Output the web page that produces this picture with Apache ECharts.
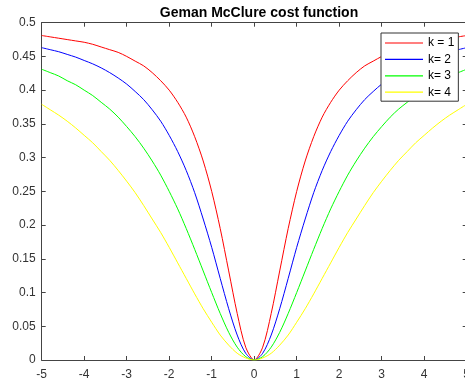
<!DOCTYPE html>
<html><head><meta charset="utf-8">
<script src="https://cdn.jsdelivr.net/npm/echarts@6/dist/echarts.min.js"></script>
<style>html,body{margin:0;padding:0;background:#fff}#c{width:465px;height:386px}</style>
</head><body><div id="c"></div>
<script>
const xs = [-5,-4.8,-4.6,-4.4,-4.2,-4,-3.8,-3.6,-3.4,-3.2,-3,-2.8,-2.6,-2.4,-2.2,-2,-1.8,-1.6,-1.4,-1.2,-1,-0.8,-0.6,-0.4,-0.2,0,0.2,0.4,0.6,0.8,1,1.2,1.4,1.6,1.8,2,2.2,2.4,2.6,2.8,3,3.2,3.4,3.6,3.8,4,4.2,4.4,4.6,4.8,5];
const k1 = [.481,.479,.477,.475,.473,.471,.468,.464,.460,.456,.450,.443,.436,.426,.414,.400,.382,.360,.331,.295,.250,.195,.132,.069,.019,0,.019,.069,.132,.195,.250,.295,.331,.360,.382,.400,.414,.426,.436,.443,.450,.456,.460,.464,.468,.471,.473,.475,.477,.479,.481];
const k2 = [.463,.460,.457,.453,.449,.444,.439,.433,.426,.418,.409,.398,.386,.371,.354,.333,.309,.281,.248,.209,.167,.121,.076,.037,.010,0,.010,.037,.076,.121,.167,.209,.248,.281,.309,.333,.354,.371,.386,.398,.409,.418,.426,.433,.439,.444,.449,.453,.457,.460,.463];
const k3 = [.431,.426,.421,.414,.408,.400,.392,.382,.372,.360,.346,.331,.314,.295,.274,.250,.224,.195,.164,.132,.100,.069,.041,.019,.005,0,.005,.019,.041,.069,.100,.132,.164,.195,.224,.250,.274,.295,.314,.331,.346,.360,.372,.382,.392,.400,.408,.414,.421,.426,.431];
const k4 = [.379,.371,.363,.354,.344,.333,.322,.309,.296,.281,.265,.248,.229,.209,.189,.167,.144,.121,.098,.076,.056,.037,.022,.010,.003,0,.003,.010,.022,.037,.056,.076,.098,.121,.144,.167,.189,.209,.229,.248,.265,.281,.296,.309,.322,.333,.344,.354,.363,.371,.379];
const names = ['k = 1','k= 2','k= 3','k= 4'];
const colors = ['#ff0000','#0000ff','#00ff00','#ffff00'];
const seriesVals = [k1,k2,k3,k4];

const chart = echarts.init(document.getElementById('c'));
const axisCol = '#444';
const font = 'Liberation Sans, Arial, sans-serif';
const xBase = {type:'value', min:-5, max:5, interval:1,
  axisLine:{onZero:false,lineStyle:{color:axisCol,width:1}},
  axisTick:{inside:true,length:4,lineStyle:{color:axisCol}},
  splitLine:{show:false}};
const yBase = {type:'value', min:0, max:0.5, interval:0.05,
  axisLine:{show:true,onZero:false,lineStyle:{color:axisCol,width:1}},
  axisTick:{show:true,inside:true,length:4,lineStyle:{color:axisCol}},
  splitLine:{show:false}};
chart.setOption({
  animation:false,
  title:{text:'Geman McClure cost function', left:254, top:1, textAlign:'center',
    textStyle:{fontFamily:font,fontSize:14,fontWeight:'bold',color:'#000'}},
  grid:{left:41.7, right:-1.7, top:22.7, bottom:26, outerBoundsMode:'none', containLabel:false},
  legend:{orient:'vertical', left:381, top:33, icon:'rect', itemWidth:38, itemHeight:1.2, itemGap:2.4,
    padding:[3,4,2,4], borderColor:'#333', borderWidth:1, backgroundColor:'#fff',
    textStyle:{fontFamily:font,fontSize:12,lineHeight:14,color:'#000'}, data:names},
  xAxis:[
    Object.assign({position:'bottom', axisLabel:{fontFamily:font,fontSize:12,color:'#333',margin:9,showMaxLabel:true,hideOverlap:false}}, xBase),
    Object.assign({position:'top', axisLabel:{show:false}}, xBase)
  ],
  yAxis:[
    Object.assign({position:'left', axisLabel:{fontFamily:font,fontSize:12,color:'#333',margin:6}}, yBase),
    Object.assign({position:'right', axisLabel:{show:false}}, yBase)
  ],
  series: seriesVals.map((vals,i)=>({
    name:names[i], type:'line', smooth:0.3, symbol:'none',
    lineStyle:{color:colors[i],width:1}, itemStyle:{color:colors[i]},
    data: xs.map((x,j)=>[x,vals[j]])
  }))
});
</script></body></html>
